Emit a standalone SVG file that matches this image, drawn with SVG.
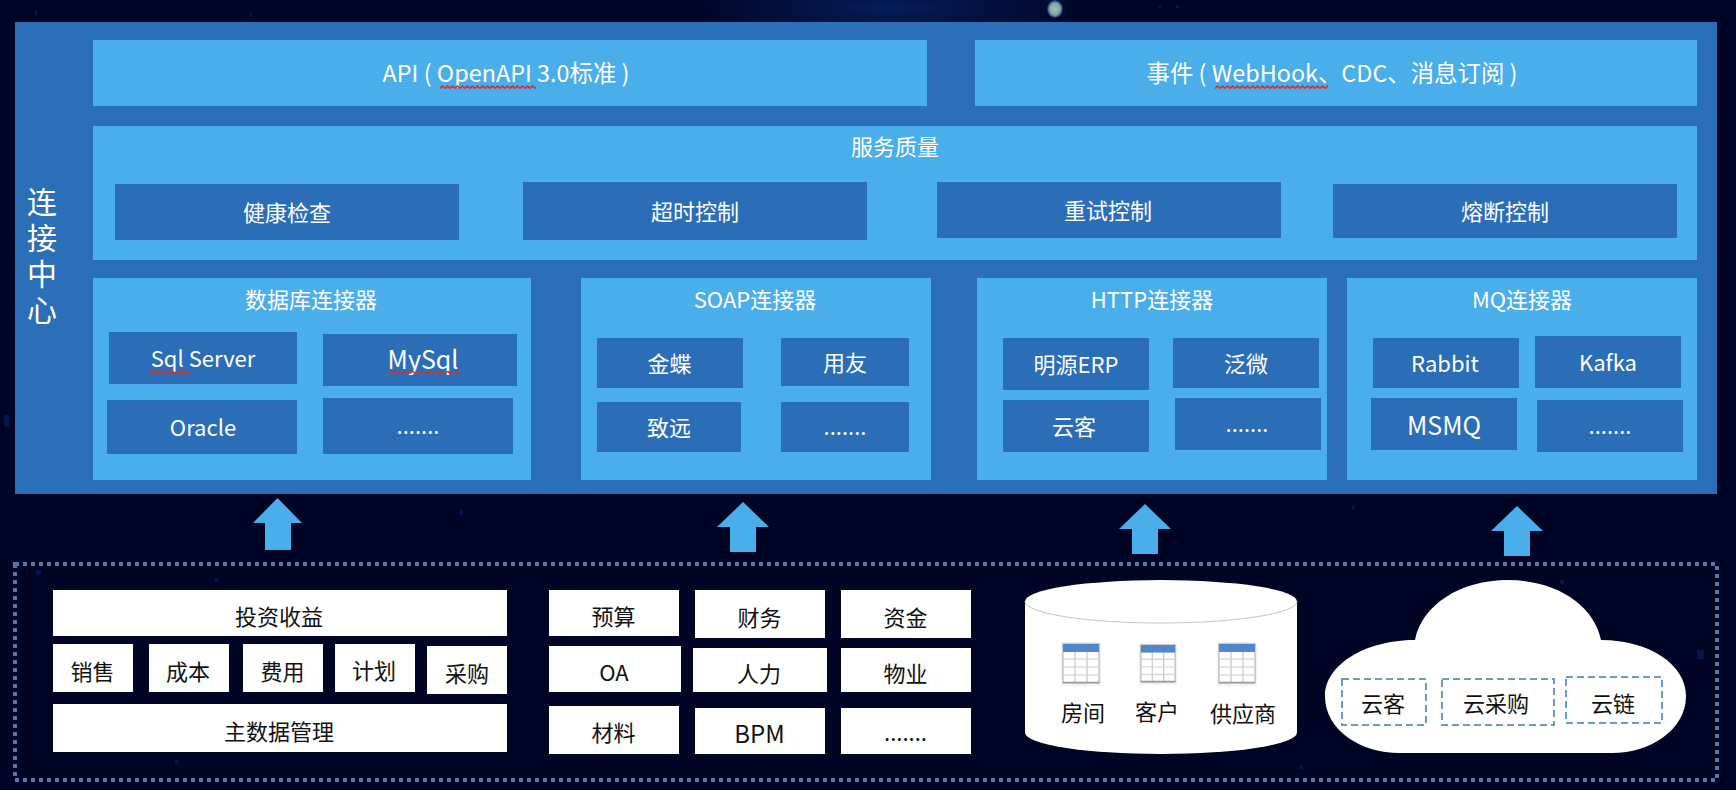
<svg xmlns="http://www.w3.org/2000/svg" width="1736" height="790" viewBox="0 0 1736 790">
<style>
text{font-family:"Noto Sans CJK SC","Noto Sans",sans-serif;font-size:22px;text-anchor:middle;dominant-baseline:central;transform:translateY(-1px)}
.w{fill:#fff}.k{fill:#111}
.dots{dominant-baseline:alphabetic}
.big{font-size:23.4px}.lat{font-size:25px}
.vert{font-size:30px;writing-mode:vertical-rl;letter-spacing:6px}
.p{fill:#2b6fb8}.l{fill:#4aaeea}.i{fill:#2b6eb7}.n{fill:#fff}
.arrow{fill:#4aaeea}
.dash{fill:none;stroke:#6a9bd0;stroke-width:2;stroke-dasharray:7 4}
.speck{fill:#04164e}
</style>
<defs>
<radialGradient id="haze"><stop offset="0" stop-color="#06246a" stop-opacity=".8"/><stop offset="1" stop-color="#06246a" stop-opacity="0"/></radialGradient>
<radialGradient id="spot"><stop offset="0" stop-color="#a8c0a8"/><stop offset=".65" stop-color="#7fa6a8"/><stop offset="1" stop-color="#0a2a70"/></radialGradient>
<pattern id="squig" width="5" height="5" patternUnits="userSpaceOnUse"><path d="M0 3.500 L2.500 1 L5 3.500" fill="none" stroke="#d9302a" stroke-width="1.600"/></pattern>
<symbol id="tbl" viewBox="0 0 40 44">
<rect width="40" height="44" fill="#f3f3f3"/>
<rect x="2" y="2" width="36" height="39" fill="#fff" stroke="#a8a8a8"/>
<path d="M2 17h36M2 25h36M2 33h36" stroke="#dcdcdc" stroke-width="1.500"/>
<path d="M14 9V41M26 9V41" stroke="#cfcfcf" stroke-width="1.500"/>
<rect x="2" y="2" width="36" height="8" fill="#4f86cc"/>
<path d="M2 40.500h36" stroke="#9a9a9a" stroke-width="1.500"/>
</symbol>
</defs>
<g id="background">
<rect width="1736" height="790" fill="#000526"/>
<ellipse cx="890" cy="8" rx="200" ry="30" fill="url(#haze)"/>
<ellipse cx="1055" cy="9" rx="8" ry="9" fill="url(#spot)"/>
<rect class="speck" x="1158" y="5" width="3" height="3"/><rect class="speck" x="1176" y="5" width="3" height="3"/><rect class="speck" x="35" y="10" width="2" height="6"/><rect class="speck" x="250" y="12" width="2" height="5"/>
<rect class="speck" x="4" y="415" width="5" height="12"/><rect class="speck" x="36" y="570" width="5" height="5"/><rect class="speck" x="215" y="578" width="3" height="4"/><rect class="speck" x="460" y="510" width="3" height="5"/><rect class="speck" x="1352" y="505" width="3" height="5"/><rect class="speck" x="1697" y="650" width="7" height="9"/><rect class="speck" x="1560" y="580" width="4" height="4"/><rect class="speck" x="1300" y="765" width="3" height="4"/><rect class="speck" x="175" y="760" width="3" height="4"/>
</g>
<g id="panel-connect">
<rect class="p" x="15" y="22" width="1702" height="472"/>
<text class="w vert" x="42" y="260">连接中心</text>
</g>
<g id="api">
<rect class="l" x="93" y="40" width="834" height="66"/>
<text class="w big" x="506" y="73">API ( OpenAPI 3.0标准 )</text>
<rect x="440" y="84" width="96" height="5" fill="url(#squig)"/>
</g>
<g id="events">
<rect class="l" x="975" y="40" width="722" height="66"/>
<text class="w big" x="1332" y="73">事件 ( WebHook、CDC、消息订阅 )</text>
<rect x="1215" y="84" width="113" height="5" fill="url(#squig)"/>
</g>
<g id="qos">
<rect class="l" x="93" y="126" width="1604" height="134"/>
<text class="w" x="895" y="146">服务质量</text>
</g>
<g id="qos-health"><rect class="i" x="115" y="184" width="344" height="56"/><text class="w" x="287" y="212">健康检查</text></g>
<g id="qos-timeout"><rect class="i" x="523" y="182" width="344" height="58"/><text class="w" x="695" y="211">超时控制</text></g>
<g id="qos-retry"><rect class="i" x="937" y="182" width="344" height="56"/><text class="w" x="1108" y="210">重试控制</text></g>
<g id="qos-break"><rect class="i" x="1333" y="184" width="344" height="54"/><text class="w" x="1505" y="211">熔断控制</text></g>

<g id="conn-db">
<rect class="l" x="93" y="278" width="438" height="202"/>
<text class="w" x="311" y="299">数据库连接器</text>
</g>
<g id="db-sqlserver"><rect class="i" x="109" y="332" width="188" height="52"/><text class="w" x="203" y="358">Sql Server</text><rect x="150" y="369" width="40" height="5" fill="url(#squig)"/></g>
<g id="db-mysql"><rect class="i" x="323" y="334" width="194" height="52"/><text class="w lat" x="423" y="359">MySql</text><rect x="387" y="371" width="72" height="5" fill="url(#squig)"/></g>
<g id="db-oracle"><rect class="i" x="107" y="400" width="190" height="54"/><text class="w" x="203" y="427">Oracle</text></g>
<g id="db-more"><rect class="i" x="323" y="398" width="190" height="56"/><text class="w dots" x="418" y="435">.......</text></g>

<g id="conn-soap">
<rect class="l" x="581" y="278" width="350" height="202"/>
<text class="w" x="755" y="299">SOAP连接器</text>
</g>
<g id="soap-kingdee"><rect class="i" x="597" y="338" width="146" height="50"/><text class="w" x="669.500" y="363">金蝶</text></g>
<g id="soap-yonyou"><rect class="i" x="781" y="338" width="128" height="48"/><text class="w" x="845" y="362">用友</text></g>
<g id="soap-seeyon"><rect class="i" x="597" y="402" width="144" height="50"/><text class="w" x="669" y="427">致远</text></g>
<g id="soap-more"><rect class="i" x="781" y="402" width="128" height="50"/><text class="w dots" x="845" y="436">.......</text></g>

<g id="conn-http">
<rect class="l" x="977" y="278" width="350" height="202"/>
<text class="w" x="1152" y="299">HTTP连接器</text>
</g>
<g id="http-mingyuan"><rect class="i" x="1003" y="338" width="146" height="52"/><text class="w" x="1076" y="364">明源ERP</text></g>
<g id="http-weaver"><rect class="i" x="1173" y="338" width="146" height="50"/><text class="w" x="1246" y="363">泛微</text></g>
<g id="http-yunke"><rect class="i" x="1003" y="400" width="146" height="52"/><text class="w" x="1074" y="426">云客</text></g>
<g id="http-more"><rect class="i" x="1175" y="398" width="146" height="52"/><text class="w dots" x="1247" y="433">.......</text></g>

<g id="conn-mq">
<rect class="l" x="1347" y="278" width="350" height="202"/>
<text class="w" x="1522" y="299">MQ连接器</text>
</g>
<g id="mq-rabbit"><rect class="i" x="1373" y="338" width="146" height="50"/><text class="w" x="1445" y="363">Rabbit</text></g>
<g id="mq-kafka"><rect class="i" x="1535" y="336" width="146" height="52"/><text class="w" x="1608" y="362">Kafka</text></g>
<g id="mq-msmq"><rect class="i" x="1371" y="398" width="146" height="52"/><text class="w lat" x="1444" y="425">MSMQ</text></g>
<g id="mq-more"><rect class="i" x="1537" y="400" width="146" height="52"/><text class="w dots" x="1610" y="435">.......</text></g>

<g id="connectors">
<path class="arrow" d="M277.500 498L302 523H291V550H265V523H253Z"/>
<path class="arrow" d="M743 502L769 527H756V552H730V527H717Z"/>
<path class="arrow" d="M1145 504L1171 529H1158V554H1132V529H1119Z"/>
<path class="arrow" d="M1517 506L1543 531H1530V556H1504V531H1491Z"/>
</g>

<g id="source-frame">
<path d="M15 564H1717V780H15Z" fill="none" stroke="#4f7aa8" stroke-width="4" stroke-dasharray="4 4"/>
</g>

<g id="n-invest"><rect class="n" x="53" y="590" width="454" height="46"/><text class="k" x="279" y="616">投资收益</text></g>
<g id="n-sales"><rect class="n" x="53" y="644" width="80" height="48"/><text class="k" x="92.500" y="671">销售</text></g>
<g id="n-cost"><rect class="n" x="149" y="644" width="80" height="48"/><text class="k" x="188" y="671">成本</text></g>
<g id="n-fee"><rect class="n" x="243" y="644" width="80" height="48"/><text class="k" x="282.500" y="671">费用</text></g>
<g id="n-plan"><rect class="n" x="335" y="644" width="80" height="48"/><text class="k" x="374" y="670">计划</text></g>
<g id="n-purchase"><rect class="n" x="427" y="646" width="80" height="48"/><text class="k" x="467" y="673">采购</text></g>
<g id="n-mdm"><rect class="n" x="53" y="704" width="454" height="48"/><text class="k" x="279" y="731">主数据管理</text></g>

<g id="n-budget"><rect class="n" x="549" y="590" width="130" height="46"/><text class="k" x="613.500" y="616">预算</text></g>
<g id="n-finance"><rect class="n" x="695" y="590" width="130" height="48"/><text class="k" x="759.500" y="617">财务</text></g>
<g id="n-fund"><rect class="n" x="841" y="590" width="130" height="48"/><text class="k" x="905.500" y="617">资金</text></g>
<g id="n-oa"><rect class="n" x="549" y="646" width="132" height="46"/><text class="k" x="614" y="672">OA</text></g>
<g id="n-hr"><rect class="n" x="693" y="648" width="134" height="44"/><text class="k" x="759" y="672.500">人力</text></g>
<g id="n-property"><rect class="n" x="841" y="648" width="130" height="44"/><text class="k" x="905.500" y="673">物业</text></g>
<g id="n-material"><rect class="n" x="549" y="706" width="130" height="48"/><text class="k" x="613.500" y="732">材料</text></g>
<g id="n-bpm"><rect class="n" x="695" y="708" width="130" height="46"/><text class="k" style="font-size:24px" x="759.500" y="733">BPM</text></g>
<g id="n-more"><rect class="n" x="841" y="708" width="130" height="46"/><text class="k dots" x="905.500" y="742">.......</text></g>

<g id="database">
<path fill="#fff" d="M1025 601.500A136 21.500 0 0 1 1297 601.500V732.500A136 21.500 0 0 1 1025 732.500Z"/>
<path fill="none" stroke="#c4c4c4" d="M1025 601.500A136 21.500 0 0 0 1297 601.500"/>
<use href="#tbl" x="1061" y="642" width="40" height="44"/>
<use href="#tbl" x="1139" y="642" width="38" height="44"/>
<use href="#tbl" x="1217" y="642" width="40" height="44"/>
<text class="k" x="1083" y="712">房间</text>
<text class="k" x="1157" y="711">客户</text>
<text class="k" x="1243" y="713">供应商</text>
</g>

<g id="cloud">
<path fill="#fff" d="M1415 640C1422 605 1460 580 1508 580C1556 580 1594 605 1601 640C1650 640 1686 665 1686 696C1686 730 1650 753 1612 753H1400C1360 753 1325 730 1325 696C1325 665 1365 640 1415 640Z"/>
<rect class="dash" x="1342" y="679" width="84" height="46"/>
<text class="k" x="1383" y="703">云客</text>
<rect class="dash" x="1442" y="679" width="112" height="46"/>
<text class="k" x="1496" y="703">云采购</text>
<rect class="dash" x="1566" y="677" width="96" height="46"/>
<text class="k" x="1613" y="703">云链</text>
</g>
</svg>
